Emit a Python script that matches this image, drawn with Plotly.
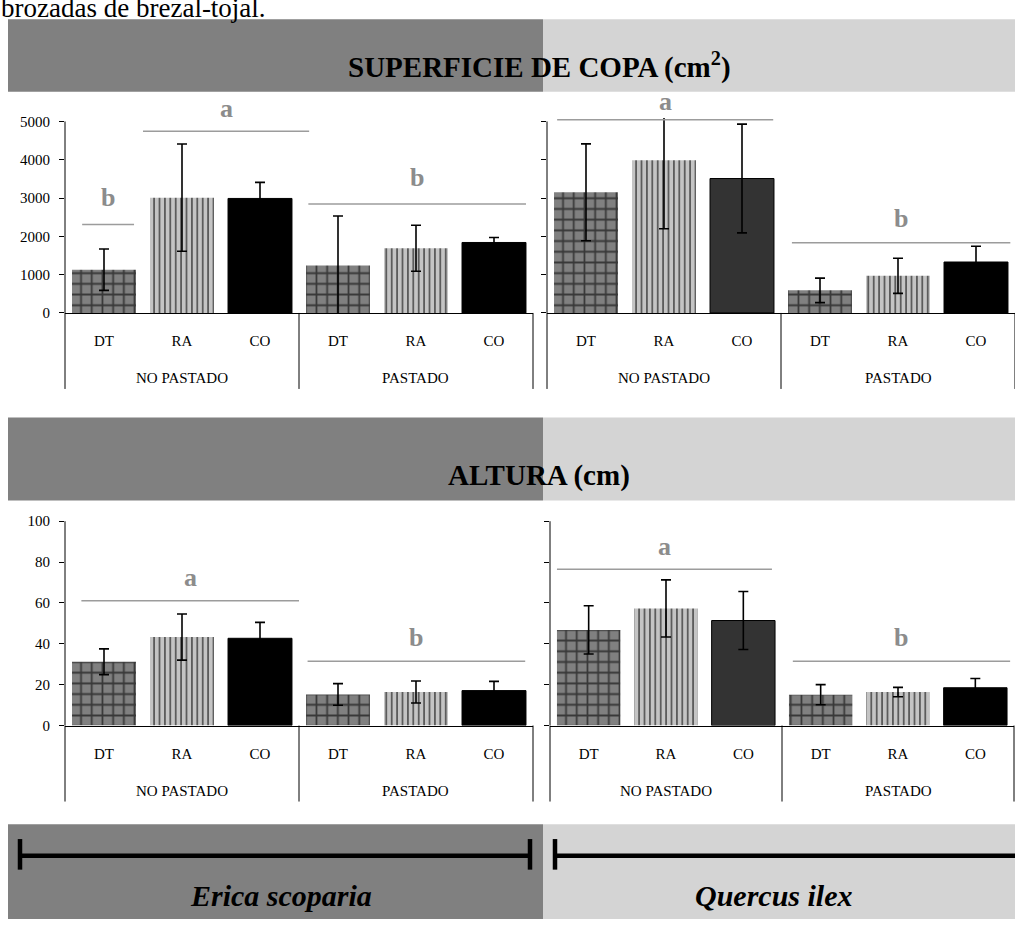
import plotly.graph_objects as go

W, H = 1015, 927

# ---------------- data ----------------
tratamientos = ["DT", "RA", "CO"]
pastoreo = ["NO PASTADO", "PASTADO"]
especies = ["Erica scoparia", "Quercus ilex"]
titulos = ["SUPERFICIE DE COPA (cm<sup>2</sup>)", "ALTURA (cm)"]
texto_previo = "brozadas de brezal-tojal."

# mean and error, ordered NO PASTADO (DT, RA, CO) then PASTADO (DT, RA, CO)
copa_erica = [1130, 3010, 2990, 1240, 1690, 1840]
copa_erica_err = [540, 1400, 420, 1290, 600, 130]
copa_quercus = [3150, 3990, 3510, 590, 970, 1330]
copa_quercus_err = [1265, 1790, 1420, 320, 460, 410]
altura_erica = [31.2, 43.3, 42.7, 15.2, 16.4, 17.1]
altura_erica_err = [6.3, 11.3, 7.8, 5.3, 5.4, 4.5]
altura_quercus = [46.8, 57.3, 51.4, 15.1, 16.4, 18.5]
altura_quercus_err = [11.8, 14.0, 14.2, 4.9, 2.3, 4.5]

copa_ticks = [0, 1000, 2000, 3000, 4000, 5000]
altura_ticks = [0, 20, 40, 60, 80, 100]

# significance letters, height of their bracket line and of the letter
copa_erica_letras = ["b", "a", "b"]
copa_erica_linea = [2312, 4742, 2843]
copa_erica_letra = [3015, 5335, 3531]
copa_quercus_letras = ["a", "b"]
copa_quercus_linea = [5046, 1835]
copa_quercus_letra = [5528, 2461]
altura_erica_letras = ["a", "b"]
altura_erica_linea = [61.1, 31.5]
altura_erica_letra = [72.5, 43.2]
altura_quercus_letras = ["a", "b"]
altura_quercus_linea = [76.5, 31.5]
altura_quercus_letra = [87.5, 43.2]

# ---------------- style / layout ----------------
SERIF = "Liberation Serif"
DARK_BAND = "#808080"
LIGHT_BAND = "#d4d4d4"
LETTER_GREY = "#8c8c8c"
BRACKET_GREY = "#9c9c9c"
RANGE_PAD = 1.018   # plot area ends just above the last tick; bars/error bars are clipped there


def px(x):
    return x / W


def py(y):
    return 1 - y / H


# pixel geometry of the four panels: left/right edge, zero line, top tick
paneles = [
    dict(n="", left=65, right=533, base=313, top=119, vals=copa_erica, errs=copa_erica_err,
         ticks=copa_ticks, labels=True, co=["#000000", "#000000"],
         letras=copa_erica_letras, linea=copa_erica_linea, letra=copa_erica_letra,
         spans=[(-0.28, 0.385), (0.5, 2.63), (2.62, 5.41)]),
    dict(n="2", left=547, right=1015, base=313, top=119, vals=copa_quercus, errs=copa_quercus_err,
         ticks=copa_ticks, labels=False, co=["#333333", "#000000"],
         letras=copa_quercus_letras, linea=copa_quercus_linea, letra=copa_quercus_letra,
         spans=[(-0.37, 2.4), (2.64, 5.44)]),
    dict(n="3", left=65, right=533, base=731, top=524, vals=altura_erica, errs=altura_erica_err,
         ticks=altura_ticks, labels=True, co=["#000000", "#000000"],
         letras=altura_erica_letras, linea=altura_erica_linea, letra=altura_erica_letra,
         spans=[(-0.29, 2.5), (2.61, 5.4)]),
    dict(n="4", left=550, right=1014, base=731, top=524, vals=altura_quercus, errs=altura_quercus_err,
         ticks=altura_ticks, labels=False, co=["#333333", "#000000"],
         letras=altura_quercus_letras, linea=altura_quercus_linea, letra=altura_quercus_letra,
         spans=[(-0.41, 2.37), (2.64, 5.45)]),
]

fig = go.Figure()
shapes = []
annotations = []
layout_axes = {}

for p in paneles:
    xa, ya = "x" + p["n"], "y" + p["n"]
    n_cat = len(tratamientos) * len(pastoreo)
    for t, trat in enumerate(tratamientos):
        xs = [g * len(tratamientos) + t for g in range(len(pastoreo))]
        ys = [p["vals"][i] for i in xs]
        es = [p["errs"][i] for i in xs]
        if trat == "DT":
            marker = dict(color="#808080", line=dict(width=0),
                          pattern=dict(shape="+", size=10.7, solidity=0.3,
                                       fgcolor="#383838", bgcolor="#808080", fillmode="replace"))
        elif trat == "RA":
            marker = dict(color="#c4c4c4", line=dict(width=0),
                          pattern=dict(shape="|", size=5.4, solidity=0.3,
                                       fgcolor="#505050", bgcolor="#c4c4c4", fillmode="replace"))
        else:
            marker = dict(color=p["co"], line=dict(width=1, color="#000000"))
        fig.add_trace(go.Bar(
            x=xs, y=ys, width=0.82, marker=marker, name=trat, xaxis=xa, yaxis=ya,
            error_y=dict(type="data", array=es, color="#000000", thickness=1.6, width=5),
            showlegend=False, hoverinfo="skip",
        ))

    top_val = p["ticks"][-1]
    y_max = top_val * RANGE_PAD
    span_px = (p["base"] - p["top"]) * RANGE_PAD
    xdom = [px(p["left"]), px(p["right"])]
    ydom = [py(p["base"]), py(p["base"] - span_px)]
    layout_axes["xaxis" + p["n"]] = dict(
        domain=xdom, anchor=ya, range=[-0.5, n_cat - 0.5],
        tickvals=list(range(n_cat)), ticktext=tratamientos * len(pastoreo),
        ticks="", showline=True, linecolor="#000000", linewidth=1,
        showgrid=False, zeroline=False, ticklabelstandoff=14,
        tickfont=dict(family=SERIF, size=15, color="#000000"), fixedrange=True,
    )
    layout_axes["yaxis" + p["n"]] = dict(
        domain=ydom, anchor=xa, range=[0, y_max],
        tickvals=p["ticks"], showticklabels=p["labels"],
        ticks="outside", ticklen=5, tickcolor="#000000", tickwidth=1,
        showline=False, showgrid=False, zeroline=False, ticklabelstandoff=6,
        tickfont=dict(family=SERIF, size=15, color="#000000"), fixedrange=True,
    )

    # value axis line, ending at the last tick
    shapes.append(dict(type="line", xref=xa + " domain", x0=0, x1=0, yref=ya, y0=0, y1=top_val,
                       line=dict(color="#000000", width=1)))
    # group dividers below the category axis
    for f in (0, 0.5, 1):
        shapes.append(dict(type="line", xref=xa + " domain", x0=f, x1=f, yref="paper",
                           y0=py(p["base"]), y1=py(p["base"] + 77),
                           line=dict(color="#000000", width=1)))
    for g, grupo in enumerate(pastoreo):
        annotations.append(dict(text=grupo, xref=xa + " domain", x=0.25 + 0.5 * g,
                                xanchor="center", yref="paper", y=py(p["base"] + 66),
                                yanchor="middle", showarrow=False,
                                font=dict(family=SERIF, size=15, color="#000000")))
    # significance brackets and letters (letters may sit above the plot area,
    # so they are placed as a fraction of the value range)
    for letra, yl, yt, (x0, x1) in zip(p["letras"], p["linea"], p["letra"], p["spans"]):
        shapes.append(dict(type="line", xref=xa, yref=ya, x0=x0, x1=x1, y0=yl, y1=yl,
                           line=dict(color=BRACKET_GREY, width=1.5)))
        annotations.append(dict(text=letra, xref=xa, yref=ya + " domain", x=(x0 + x1) / 2,
                                y=yt / y_max, xanchor="center", yanchor="middle", showarrow=False,
                                font=dict(family=SERIF, size=26, color=LETTER_GREY, weight="bold")))

# header and species bands
for y0, y1 in ((15.5, 89), (419, 503), (831, 927)):
    shapes.append(dict(type="rect", xref="paper", yref="paper", x0=px(8), x1=px(543),
                       y0=py(y1), y1=py(y0), fillcolor=DARK_BAND, line=dict(width=0), layer="below"))
    shapes.append(dict(type="rect", xref="paper", yref="paper", x0=px(543), x1=px(1015),
                       y0=py(y1), y1=py(y0), fillcolor=LIGHT_BAND, line=dict(width=0), layer="below"))

for titulo, yc in zip(titulos, (62, 478)):
    annotations.append(dict(text=titulo, xref="paper", yref="paper", x=px(539), y=py(yc),
                            xanchor="center", yanchor="middle", showarrow=False,
                            font=dict(family=SERIF, size=29, color="#000000", weight="bold")))

# species range bars with end caps
for (xa0, xa1, caps), nombre, xc in zip(((20, 530, (20, 530)), (555, 1015, (555,))),
                                        especies, (281, 774)):
    shapes.append(dict(type="line", xref="paper", yref="paper", x0=px(xa0), x1=px(xa1),
                       y0=py(863), y1=py(863), line=dict(color="#000000", width=4.5)))
    for c in caps:
        shapes.append(dict(type="line", xref="paper", yref="paper", x0=px(c), x1=px(c),
                           y0=py(846), y1=py(877), line=dict(color="#000000", width=4.5)))
    annotations.append(dict(text=nombre, xref="paper", yref="paper", x=px(xc), y=py(903),
                            xanchor="center", yanchor="middle", showarrow=False,
                            font=dict(family=SERIF, size=30, color="#000000",
                                      weight="bold", style="italic")))

annotations.append(dict(text=texto_previo, xref="paper", yref="paper", x=px(-1), y=py(4),
                        xanchor="left", yanchor="middle", showarrow=False,
                        font=dict(family=SERIF, size=27, color="#000000")))

fig.update_layout(
    width=W, height=H, margin=dict(l=0, r=0, t=0, b=0),
    paper_bgcolor="#ffffff", plot_bgcolor="rgba(0,0,0,0)",
    barmode="overlay", showlegend=False,
    shapes=shapes, annotations=annotations, **layout_axes,
)

fig.write_html("out.html")
